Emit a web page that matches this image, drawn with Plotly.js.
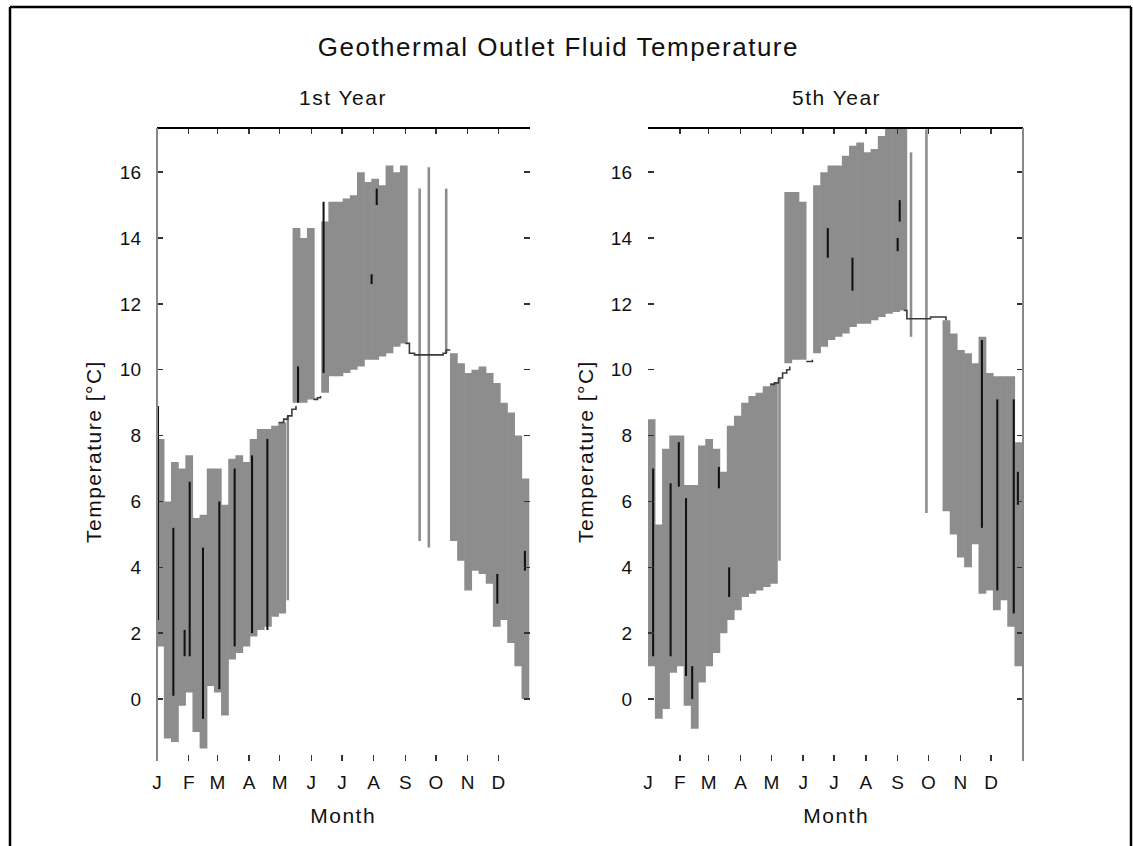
<!DOCTYPE html>
<html>
<head>
<meta charset="utf-8">
<script src="https://cdn.plot.ly/plotly-3.0.1.min.js"></script>
<style>
html,body{margin:0;padding:0;background:#fff}
#chart .annotation text{letter-spacing:1.5px}
</style>
</head>
<body>
<div id="chart" style="width:1133px;height:846px"></div>
<script>
// ---- Data ----
const monthTickDays = [0, 31, 59, 90, 120, 151, 181, 212, 243, 273, 304, 334];
const monthLabels = ['J', 'F', 'M', 'A', 'M', 'J', 'J', 'A', 'S', 'O', 'N', 'D'];
const tempTicks = [0, 2, 4, 6, 8, 10, 12, 14, 16];

// weekly period centres (day of year)
const weekDays = [3.5, 10.5, 17.5, 24.5, 31.5, 38.5, 45.5, 52.5, 59.5, 66.5, 73.5, 80.5, 87.5,
  94.5, 101.5, 108.5, 115.5, 122.5, 129.5, 136.5, 143.5, 150.5, 157.5, 164.5, 171.5, 178.5,
  185.5, 192.5, 199.5, 206.5, 213.5, 220.5, 227.5, 234.5, 241.5, 248.5, 255.5, 262.5, 269.5,
  276.5, 283.5, 290.5, 297.5, 304.5, 311.5, 318.5, 325.5, 332.5, 339.5, 346.5, 353.5, 360.5];

// 1st year: weekly max / min of outlet temperature (°C)
const year1High = [7.9, 6.0, 7.2, 7.0, 7.4, 5.5, 5.6, 7.0, 7.0, 5.9, 7.3, 7.4, 7.2, 7.9, 8.2, 8.2, 8.3, 8.4,
  null, 14.3, 14.0, 14.3, null, 14.5, 15.1, 15.1, 15.2, 15.3, 16.0, 15.7, 15.8, 15.6, 16.2, 16.0, 16.2,
  null, null, null, null, null, null, 10.5, 10.2, 9.9, 10.0, 10.1, 9.9, 9.6, 9.0, 8.7, 8.0, 6.7];
const year1Low = [1.6, -1.2, -1.3, -0.2, 0.2, -1.0, -1.5, 0.4, 0.2, -0.5, 1.2, 1.4, 1.6, 1.9, 2.1, 2.2, 2.5, 2.6,
  null, 9.0, 9.0, 9.1, null, 9.3, 9.8, 9.8, 9.9, 10.0, 10.1, 10.3, 10.3, 10.4, 10.5, 10.7, 10.8,
  null, null, null, null, null, null, 4.8, 4.2, 3.3, 3.9, 3.8, 3.5, 2.2, 2.4, 1.7, 1.0, 0.0];

// 5th year: weekly max / min (°C)
const year5High = [8.5, 5.3, 7.6, 8.0, 8.0, 6.5, 6.5, 7.7, 7.9, 7.6, 6.9, 8.3, 8.6, 9.0, 9.2, 9.3, 9.5, 9.6,
  null, 15.4, 15.4, 15.1, null, 15.6, 16.0, 16.2, 16.2, 16.5, 16.8, 16.9, 16.6, 16.7, 17.1, 17.4, 17.4, 17.4,
  null, null, null, null, null, 11.5, 11.1, 10.6, 10.5, 10.2, 11.0, 9.9, 9.8, 9.8, 9.8, 7.8];
const year5Low = [1.0, -0.6, -0.3, 0.8, 1.0, -0.2, -0.9, 0.5, 1.0, 1.4, 2.0, 2.4, 2.7, 3.1, 3.2, 3.3, 3.4, 3.5,
  null, 10.2, 10.3, 10.3, null, 10.5, 10.7, 10.9, 11.0, 11.1, 11.3, 11.4, 11.4, 11.5, 11.6, 11.7, 11.75, 11.8,
  null, null, null, null, null, 5.7, 5.0, 4.3, 4.0, 4.7, 3.2, 3.3, 2.7, 3.0, 2.2, 1.0];

// idle (no-load) periods: smooth temperature
const year1IdleDays = [119, 124, 128, 132, 136, null, 153, 157, 160, null, 243, 247, 252, 262, 272, 280, 283, 287];
const year1IdleTemp = [8.4, 8.5, 8.6, 8.8, 8.9, null, 9.1, 9.15, 9.2, null, 10.8, 10.5, 10.45, 10.45, 10.45, 10.5, 10.6, 10.6];
const year5IdleDays = [119, 123, 127, 131, 135, 138, null, 154, 157, 160, null, 249, 252, 258, 266, 275, 282, 286, 290];
const year5IdleTemp = [9.55, 9.6, 9.75, 9.9, 10.0, 10.1, null, 10.25, 10.25, 10.3, null, 11.8, 11.55, 11.55, 11.55, 11.6, 11.6, 11.6, 11.5];

// isolated short load events
const year1SpikeDays = [128, 257, 266, 283];
const year1SpikeLow = [3.0, 4.8, 4.6, 10.5];
const year1SpikeHigh = [8.6, 15.5, 16.15, 15.5];
const year5SpikeDays = [128, 256, 271];
const year5SpikeLow = [4.2, 11.0, 5.65];
const year5SpikeHigh = [9.75, 16.6, 17.3];

// dense (dark) stretches of the hourly trace
const year1DarkDays = [1, 16, 27, 32, 45, 61, 76, 93, 108, 138, 163, 210, 215, 333, 360];
const year1DarkLow = [2.4, 0.1, 1.3, 1.3, -0.6, 0.3, 1.6, 2.0, 2.1, 9.0, 9.9, 12.6, 15.0, 2.9, 3.9];
const year1DarkHigh = [8.9, 5.2, 2.1, 6.6, 4.6, 6.0, 7.0, 7.4, 7.9, 10.1, 15.1, 12.9, 15.5, 3.8, 4.5];
const year5DarkDays = [5, 22, 30, 37, 43, 69, 79, 175, 199, 243, 245, 325, 340, 356, 360];
const year5DarkLow = [1.3, 1.3, 6.45, 0.7, 0.0, 6.4, 3.1, 13.4, 12.4, 13.6, 14.5, 5.2, 3.3, 2.6, 5.9];
const year5DarkHigh = [7.0, 6.55, 7.8, 6.1, 1.0, 7.05, 4.0, 14.3, 13.4, 14.0, 15.15, 10.9, 9.1, 9.1, 6.9];

// ---- Build traces ----
function span(lo, hi) { return hi.map((h, i) => (h === null || lo[i] === null) ? null : h - lo[i]); }

function rangeBars(xs, lo, hi, xa, ya, color, lineColor, lineW, w) {
  return {
    type: 'bar', x: xs, y: span(lo, hi), base: lo, width: w,
    xaxis: xa, yaxis: ya, showlegend: false, hoverinfo: 'skip',
    marker: { color: color, line: { color: lineColor, width: lineW } }
  };
}
function idleLine(xs, ys, xa, ya) {
  return {
    type: 'scatter', mode: 'lines', x: xs, y: ys, xaxis: xa, yaxis: ya,
    line: { color: '#3a3a3a', width: 1.6, shape: 'hv' }, connectgaps: false,
    showlegend: false, hoverinfo: 'skip'
  };
}

const GRAY = '#8d8d8d';
const traces = [
  idleLine(year1IdleDays, year1IdleTemp, 'x', 'y'),
  rangeBars(weekDays, year1Low, year1High, 'x', 'y', GRAY, GRAY, 0, 7.6),
  rangeBars(year1SpikeDays, year1SpikeLow, year1SpikeHigh, 'x', 'y', GRAY, GRAY, 0, 2.5),
  rangeBars(year1DarkDays, year1DarkLow, year1DarkHigh, 'x', 'y', '#111', '#111', 0, 2.0),
  idleLine(year5IdleDays, year5IdleTemp, 'x2', 'y2'),
  rangeBars(weekDays, year5Low, year5High, 'x2', 'y2', GRAY, GRAY, 0, 7.6),
  rangeBars(year5SpikeDays, year5SpikeLow, year5SpikeHigh, 'x2', 'y2', GRAY, GRAY, 0, 2.5),
  rangeBars(year5DarkDays, year5DarkLow, year5DarkHigh, 'x2', 'y2', '#111', '#111', 0, 2.0)
];

const FONT = 'Liberation Sans, Arial, sans-serif';
const W = 1133, H = 846;
const yDom = [1 - 761 / H, 1 - 128 / H];

function xAxis(dom, anchor) {
  return {
    domain: dom, anchor: anchor, range: [0, 365], showgrid: false, zeroline: false,
    showline: false, tickmode: 'array', tickvals: monthTickDays, ticktext: monthLabels,
    ticks: 'inside', ticklen: 6, tickwidth: 1.5, tickcolor: '#333', mirror: 'ticks',
    tickfont: { family: FONT, size: 19, color: '#111' }, ticklabelstandoff: 8
  };
}
function yAxis(anchor) {
  return {
    domain: yDom, anchor: anchor, range: [-1.88, 17.34], showgrid: false, zeroline: false,
    showline: false, tickmode: 'array', tickvals: tempTicks,
    ticks: 'inside', ticklen: 6, tickwidth: 1.5, tickcolor: '#333', mirror: 'ticks',
    tickfont: { family: FONT, size: 19, color: '#111' }, ticklabelstandoff: 15
  };
}

function ann(text, x, y, size, angle) {
  return {
    text: text, x: x / W, y: 1 - y / H, xref: 'paper', yref: 'paper',
    xanchor: 'center', yanchor: 'middle', showarrow: false,
    textangle: angle || 0, font: { family: FONT, size: size, color: '#111' }
  };
}

const layout = {
  width: W, height: H,
  margin: { l: 0, r: 0, t: 0, b: 0 },
  paper_bgcolor: '#fff', plot_bgcolor: 'rgba(0,0,0,0)',
  barmode: 'overlay', showlegend: false,
  xaxis: xAxis([157 / W, 530 / W], 'y'),
  yaxis: yAxis('x'),
  xaxis2: xAxis([648 / W, 1023 / W], 'y2'),
  yaxis2: yAxis('x2'),
  annotations: [
    ann('Geothermal Outlet Fluid Temperature', 558, 47, 26),
    ann('1st Year', 343, 97, 21),
    ann('5th Year', 836, 97, 21),
    ann('Temperature [°C]', 93, 452, 21, -90),
    ann('Temperature [°C]', 585, 452, 21, -90),
    ann('Month', 343, 815, 21),
    ann('Month', 836, 815, 21)
  ],
  shapes: [
    { type: 'line', xref: 'x domain', yref: 'y domain', x0: 0, x1: 1, y0: 1, y1: 1, line: { color: '#000', width: 2 } },
    { type: 'line', xref: 'x domain', yref: 'y domain', x0: 0, x1: 0, y0: 0, y1: 1, line: { color: '#888', width: 2 } },
    { type: 'line', xref: 'x2 domain', yref: 'y2 domain', x0: 0, x1: 1, y0: 1, y1: 1, line: { color: '#000', width: 2 } },
    { type: 'line', xref: 'x2 domain', yref: 'y2 domain', x0: 1, x1: 1, y0: 0, y1: 1, line: { color: '#888', width: 2 } },
    { type: 'line', xref: 'paper', yref: 'paper', x0: 10 / W, x1: 10 / W, y0: -0.02, y1: 1 - 7 / H, line: { color: '#000', width: 2.5 } },
    { type: 'line', xref: 'paper', yref: 'paper', x0: 10 / W, x1: 1131 / W, y0: 1 - 7 / H, y1: 1 - 7 / H, line: { color: '#000', width: 2.5 } },
    { type: 'line', xref: 'paper', yref: 'paper', x0: 1131 / W, x1: 1131 / W, y0: -0.02, y1: 1 - 7 / H, line: { color: '#000', width: 2.5 } }
  ]
};

Plotly.newPlot('chart', traces, layout, { staticPlot: true, displayModeBar: false });
</script>
</body>
</html>
